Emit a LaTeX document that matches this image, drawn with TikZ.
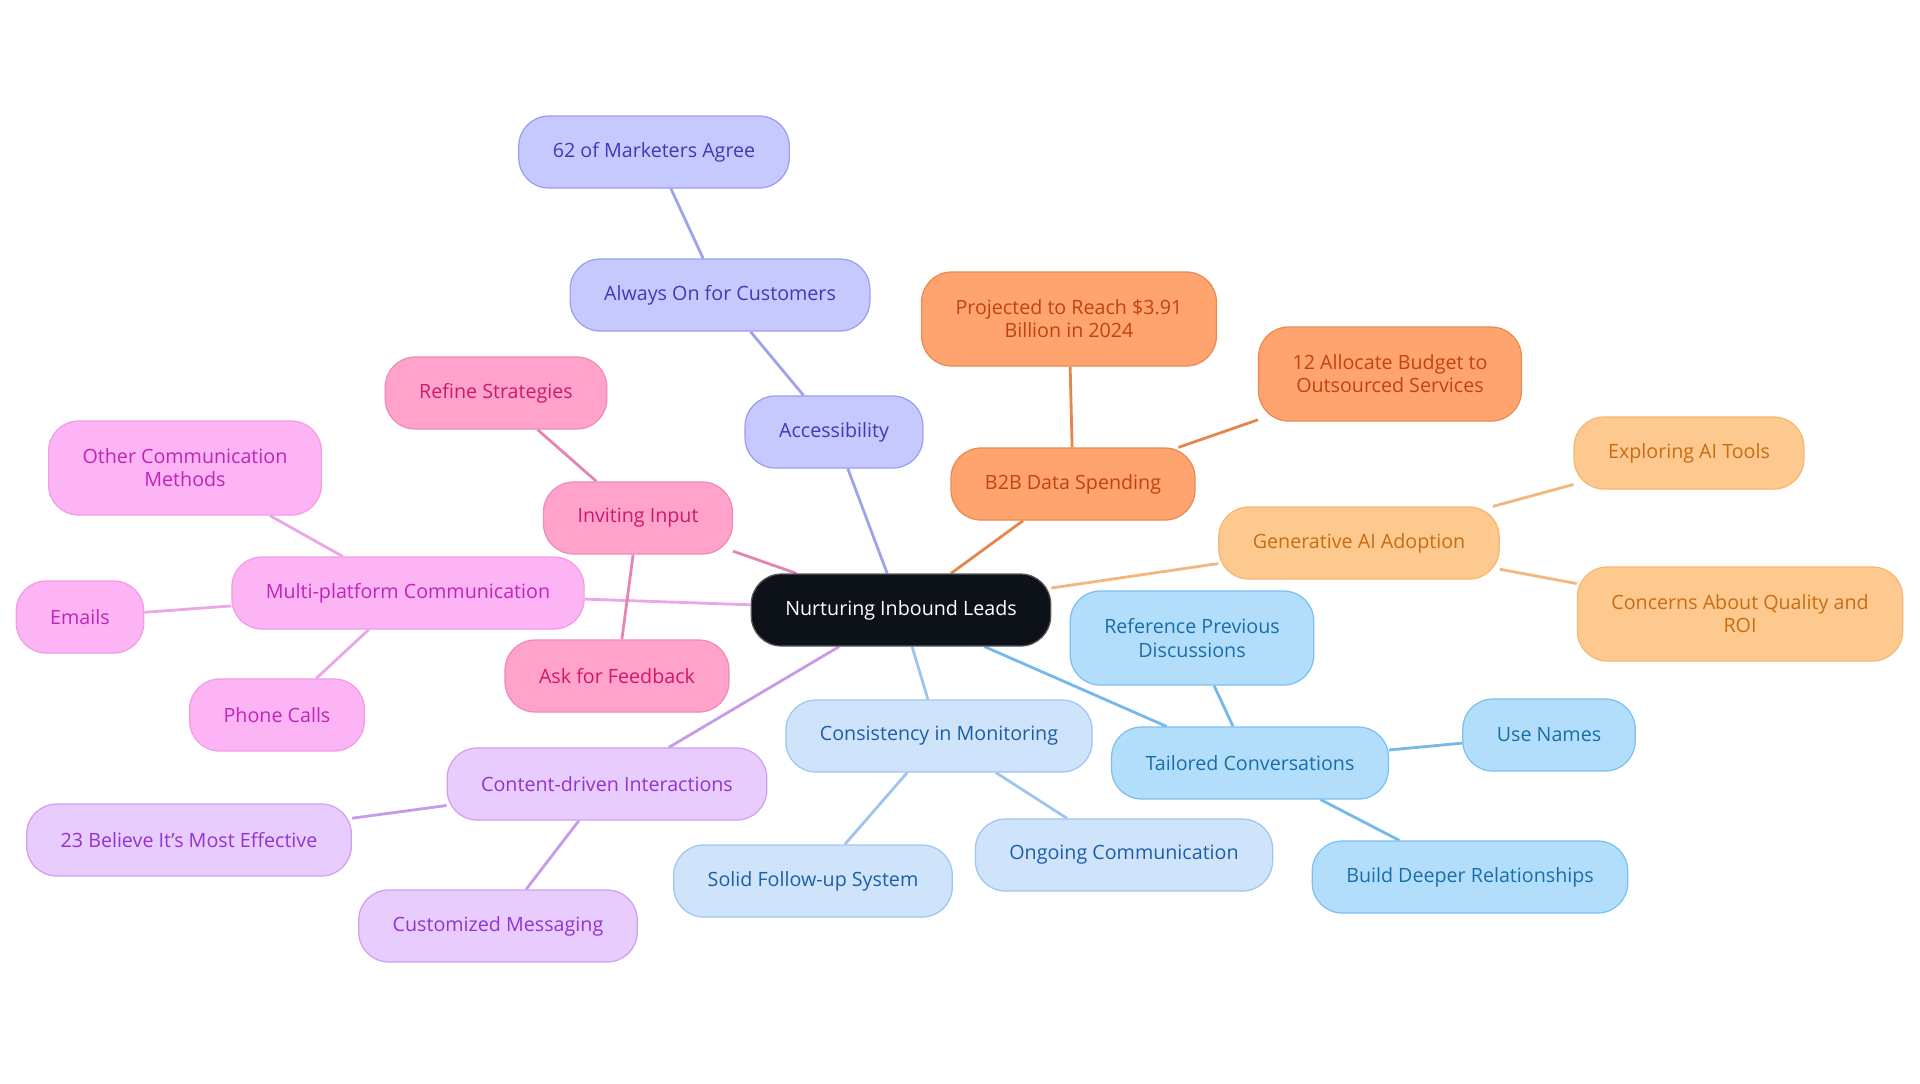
\documentclass[tikz,border=0pt]{standalone}
\usepackage{fontspec}
\setmainfont{Open Sans}
\usetikzlibrary{backgrounds}

% branch colours: fill, border, text, connector
\definecolor{rootfill}{HTML}{0C1218}
\definecolor{accfill}{HTML}{C6C9FD}\definecolor{accdraw}{HTML}{9B9FF0}\definecolor{acctext}{HTML}{3F3AB8}\definecolor{accline}{HTML}{9FA3EC}
\definecolor{spdfill}{HTML}{FFA46F}\definecolor{spddraw}{HTML}{EA8A50}\definecolor{spdtext}{HTML}{C1440E}\definecolor{spdline}{HTML}{E3874E}
\definecolor{genfill}{HTML}{FEC98F}\definecolor{gendraw}{HTML}{F5B873}\definecolor{gentext}{HTML}{C86D12}\definecolor{genline}{HTML}{F2B77E}
\definecolor{tlrfill}{HTML}{B2DEFC}\definecolor{tlrdraw}{HTML}{7CC0F0}\definecolor{tlrtext}{HTML}{1A6EA8}\definecolor{tlrline}{HTML}{74B9EA}
\definecolor{monfill}{HTML}{CFE4FB}\definecolor{mondraw}{HTML}{9FC6F0}\definecolor{montext}{HTML}{1D5EA8}\definecolor{monline}{HTML}{9EC5EE}
\definecolor{cntfill}{HTML}{E8CCFD}\definecolor{cntdraw}{HTML}{CFA0F0}\definecolor{cnttext}{HTML}{9234D0}\definecolor{cntline}{HTML}{C79BEA}
\definecolor{mltfill}{HTML}{FDB4F4}\definecolor{mltdraw}{HTML}{F19CE6}\definecolor{mlttext}{HTML}{C024B8}\definecolor{mltline}{HTML}{EBA6E6}
\definecolor{invfill}{HTML}{FFA3CB}\definecolor{invdraw}{HTML}{F08AB8}\definecolor{invtext}{HTML}{D0186A}\definecolor{invline}{HTML}{E585B4}

\begin{document}
\begin{tikzpicture}[x=0.02cm, y=-0.02cm, font=\fontsize{11.2}{13.2}\selectfont,
  box/.style={draw, rounded corners=0.6cm, line width=0.7pt, minimum height=1.44cm,
    inner xsep=0.68cm, align=center},
  twoline/.style={minimum height=1.88cm},
  hub/.style={box, fill=rootfill, draw=gray!70!black, text=white},
  acc/.style={box, fill=accfill, draw=accdraw, text=acctext},
  spd/.style={box, fill=spdfill, draw=spddraw, text=spdtext},
  gen/.style={box, fill=genfill, draw=gendraw, text=gentext},
  tlr/.style={box, fill=tlrfill, draw=tlrdraw, text=tlrtext},
  mon/.style={box, fill=monfill, draw=mondraw, text=montext},
  cnt/.style={box, fill=cntfill, draw=cntdraw, text=cnttext},
  mlt/.style={box, fill=mltfill, draw=mltdraw, text=mlttext},
  inv/.style={box, fill=invfill, draw=invdraw, text=invtext},
  link/.style={line width=1.6pt}]
  \useasboundingbox (0,0) rectangle (1920,1083);

  % centre
  \node[hub] (root) at (901,610) {Nurturing Inbound Leads};

  % accessibility
  \node[acc] (acc) at (834,432) {Accessibility};
  \node[acc] (always) at (720,295) {Always On for Customers};
  \node[acc] (agree) at (654,152) {62 of Marketers Agree};

  % spending
  \node[spd] (spend) at (1073,484) {B2B Data Spending};
  \node[spd, twoline] (reach) at (1069,319) {Projected to Reach \$3.91\\Billion in 2024};
  \node[spd, twoline] (budget) at (1390,374) {12 Allocate Budget to\\Outsourced Services};

  % generative AI
  \node[gen] (genai) at (1359,543) {Generative AI Adoption};
  \node[gen] (tools) at (1689,453) {Exploring AI Tools};
  \node[gen, twoline] (quality) at (1740,614) {Concerns About Quality and\\ROI};

  % tailored conversations
  \node[tlr] (tailor) at (1250,763) {Tailored Conversations};
  \node[tlr, twoline] (previous) at (1192,638) {Reference Previous\\Discussions};
  \node[tlr] (names) at (1549,735) {Use Names};
  \node[tlr] (deeper) at (1470,877) {Build Deeper Relationships};

  % monitoring
  \node[mon] (monitor) at (939,736) {Consistency in Monitoring};
  \node[mon] (followup) at (813,881) {Solid Follow-up System};
  \node[mon] (ongoing) at (1124,855) {Ongoing Communication};

  % content
  \node[cnt] (content) at (607,784) {Content-driven Interactions};
  \node[cnt] (believe) at (189,840) {23 Believe It's Most Effective};
  \node[cnt] (custom) at (498,926) {Customized Messaging};

  % channels
  \node[mlt] (multi) at (408,593) {Multi-platform Communication};
  \node[mlt, twoline] (other) at (185,468) {Other Communication\\Methods};
  \node[mlt] (emails) at (80,617) {Emails};
  \node[mlt] (phone) at (277,715) {Phone Calls};

  % input
  \node[inv] (invite) at (638,518) {Inviting Input};
  \node[inv] (refine) at (496,393) {Refine Strategies};
  \node[inv] (feedback) at (617,676) {Ask for Feedback};

  \begin{scope}[on background layer]
    \fill[white] (0,0) rectangle (1920,1083);
    \draw[link, accline] (root) -- (acc) -- (always) -- (agree);
    \foreach \n in {reach,budget} \draw[link, spdline] (spend) -- (\n);
    \draw[link, spdline] (root) -- (spend);
    \foreach \n in {tools,quality} \draw[link, genline] (genai) -- (\n);
    \draw[link, genline] (root) -- (genai);
    \foreach \n in {previous,names,deeper} \draw[link, tlrline] (tailor) -- (\n);
    \draw[link, tlrline] (root) -- (tailor);
    \foreach \n in {followup,ongoing} \draw[link, monline] (monitor) -- (\n);
    \draw[link, monline] (root) -- (monitor);
    \foreach \n in {believe,custom} \draw[link, cntline] (content) -- (\n);
    \draw[link, cntline] (root) -- (content);
    \foreach \n in {other,emails,phone} \draw[link, mltline] (multi) -- (\n);
    \draw[link, mltline] (root) -- (multi);
    \foreach \n in {refine,feedback} \draw[link, invline] (invite) -- (\n);
    \draw[link, invline] (root) -- (invite);
  \end{scope}
\end{tikzpicture}
\end{document}
